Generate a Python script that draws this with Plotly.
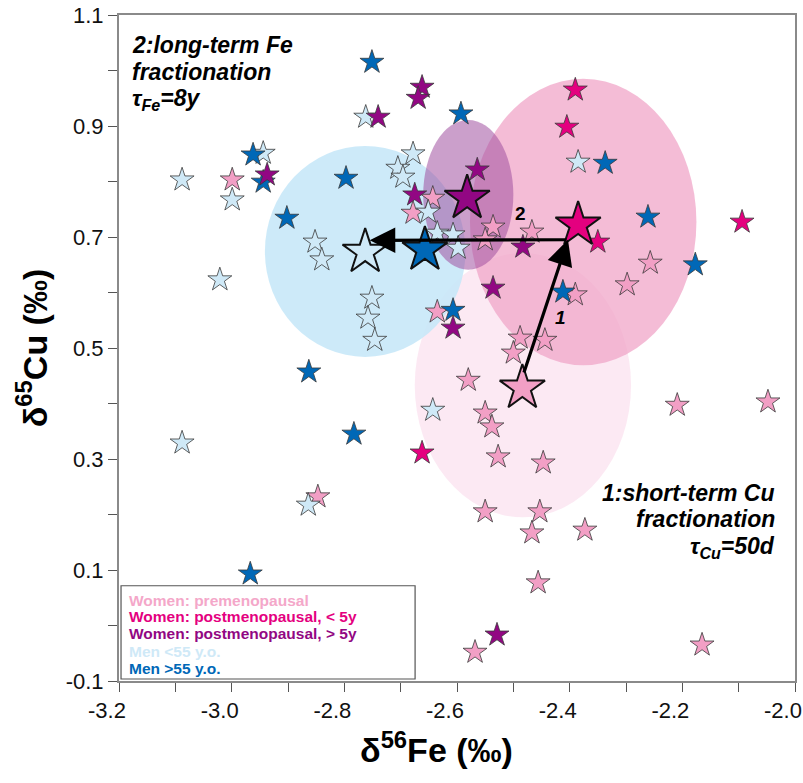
import plotly.graph_objects as go

# ---------------- data ----------------
pre_x = [-2.999, -2.643, -2.678, -2.536, -2.467, -2.550, -2.257, -2.298, -2.390, -2.635,
         -2.488, -2.444, -2.500, -2.580, -2.550, -2.538, -2.527, -2.447, -2.550, -2.453,
         -2.209, -2.048, -2.467, -2.373, -2.456, -2.568, -2.165, -2.847]
pre_y = [0.803, 0.770, 0.743, 0.718, 0.709, 0.695, 0.653, 0.614, 0.596, 0.565,
         0.518, 0.514, 0.491, 0.442, 0.383, 0.358, 0.304, 0.293, 0.205, 0.205,
         0.397, 0.403, 0.167, 0.172, 0.077, -0.048, -0.035, 0.232]

post5_x = [-2.390, -2.405, -2.350, -2.094, -2.662]
post5_y = [0.965, 0.898, 0.691, 0.727, 0.311]

postgt5_x = [-2.662, -2.669, -2.740, -2.937, -2.564, -2.675, -2.483, -2.536, -2.607, -2.529]
postgt5_y = [0.970, 0.950, 0.916, 0.812, 0.821, 0.776, 0.682, 0.608, 0.536, -0.017]

men_young_x = [-3.088, -2.944, -2.999, -2.762, -2.678, -2.705, -2.696, -2.651, -2.852, -2.840,
               -2.751, -2.758, -2.746, -2.635, -2.607, -2.598, -2.385, -2.643, -3.088, -3.021,
               -2.864]
men_young_y = [0.803, 0.851, 0.767, 0.916, 0.850, 0.824, 0.808, 0.745, 0.691, 0.659,
               0.590, 0.554, 0.514, 0.707, 0.704, 0.680, 0.835, 0.388, 0.329, 0.623,
               0.217]

men_old_x = [-2.751, -2.593, -2.962, -2.944, -2.797, -2.902, -2.863, -2.783, -2.967, -2.337,
             -2.261, -2.177, -2.412, -2.607]
men_old_y = [1.015, 0.922, 0.848, 0.799, 0.806, 0.734, 0.457, 0.345, 0.093, 0.833,
             0.736, 0.650, 0.601, 0.568]

# group means (large stars): pre, post<5, post>5, men<55, men>55
mean_x = [-2.484, -2.385, -2.582, -2.763, -2.657]
mean_y = [0.428, 0.722, 0.770, 0.673, 0.677]

# dispersion ellipses: centre x, centre y, half-width, half-height
ell_cx = [-2.483, -2.763, -2.376, -2.580]
ell_cy = [0.433, 0.674, 0.727, 0.776]
ell_rx = [0.192, 0.178, 0.201, 0.080]
ell_ry = [0.238, 0.190, 0.258, 0.135]
ell_col = ["rgba(251,226,239,0.75)", "rgba(200,232,248,0.9)",
           "rgba(240,165,200,0.75)", "rgba(160,80,160,0.55)"]

group_names = ["Women: premenopausal", "Women: postmenopausal, < 5y",
               "Women: postmenopausal, > 5y", "Men <55 y.o.", "Men >55 y.o."]
group_cols = ["#f29fc5", "#e4007f", "#920783", "#cfe9f7", "#0068b7"]
legend_text_cols = ["#f4a7c9", "#e4007f", "#920783", "#cfe9f7", "#0068b7"]

x_ticks = [-3.2, -3.0, -2.8, -2.6, -2.4, -2.2, -2.0]
y_ticks = [-0.1, 0.1, 0.3, 0.5, 0.7, 0.9, 1.1]

note2_lines = ["2:long-term Fe", "fractionation", "τ<sub>Fe</sub>=8y"]
note1_lines = ["1:short-term Cu", "fractionation", "τ<sub>Cu</sub>=50d"]

FONT = "Liberation Sans, Arial"

# ---------------- figure ----------------
fig = go.Figure()

shapes = []
for cx, cy, rx, ry, c in zip(ell_cx, ell_cy, ell_rx, ell_ry, ell_col):
    shapes.append(dict(type="circle", xref="x", yref="y", x0=cx - rx, x1=cx + rx,
                       y0=cy - ry, y1=cy + ry, fillcolor=c, line=dict(width=0), layer="below"))

series = [(pre_x, pre_y, 0), (men_young_x, men_young_y, 3), (men_old_x, men_old_y, 4),
          (postgt5_x, postgt5_y, 2), (post5_x, post5_y, 1)]
for xs, ys, gi in series:
    fig.add_trace(go.Scatter(x=xs, y=ys, mode="markers", name=group_names[gi],
                             marker=dict(symbol="star", size=18, color=group_cols[gi],
                                         line=dict(color="#3a3a3a", width=0.8)),
                             showlegend=False))

fig.add_trace(go.Scatter(x=mean_x, y=mean_y, mode="markers", showlegend=False,
                         marker=dict(symbol="star", size=34, color=group_cols,
                                     line=dict(color="#111111", width=2))))

# legend box
shapes.append(dict(type="rect", xref="paper", yref="paper", x0=0.003, x1=0.438,
                   y0=0.003, y1=0.143, line=dict(color="#555555", width=1.2),
                   fillcolor="white", layer="above"))

annotations = []
leg_y = [0.1216, 0.0961, 0.0706, 0.0450, 0.0195]
for t, c, yy in zip(group_names, legend_text_cols, leg_y):
    annotations.append(dict(xref="paper", yref="paper", x=0.0125, y=yy, xanchor="left",
                            yanchor="middle", text=f"<b>{t}</b>", showarrow=False,
                            font=dict(family=FONT, size=15.5, color=c)))

annotations += [
    # arrow 1: pre -> post<5
    dict(x=mean_x[1] - 0.018, y=0.695, ax=mean_x[0] + 0.002, ay=mean_y[0] + 0.025,
         xref="x", yref="y", axref="x", ayref="y", showarrow=True, arrowhead=2,
         arrowsize=1.6, arrowwidth=3.2, arrowcolor="black", text="", standoff=0),
    # arrow 2: post<5 -> men<55
    dict(x=mean_x[3] + 0.008, y=0.694, ax=mean_x[1] - 0.018, ay=0.695,
         xref="x", yref="y", axref="x", ayref="y", showarrow=True, arrowhead=2,
         arrowsize=1.6, arrowwidth=3.2, arrowcolor="black", text="", standoff=0),
    dict(x=-2.488, y=0.742, xref="x", yref="y", text="<b>2</b>", showarrow=False,
         font=dict(family=FONT, size=19, color="black")),
    dict(x=-2.417, y=0.555, xref="x", yref="y", text="<b><i>1</i></b>", showarrow=False,
         font=dict(family=FONT, size=19, color="black")),
    # x-axis title (slightly left of centre as in the original)
    dict(xref="paper", yref="paper", x=0.47, y=-0.1006, xanchor="center", yanchor="middle",
         text="<b>δ<sup>56</sup>Fe (‰)</b>", showarrow=False,
         font=dict(family=FONT, size=34, color="black")),
]

for t, yy in zip(note2_lines, [1.046, 0.997, 0.947]):
    annotations.append(dict(x=-3.181, y=yy, xref="x", yref="y", xanchor="left",
                            yanchor="middle", text=f"<b><i>{t}</i></b>", showarrow=False,
                            font=dict(family=FONT, size=23, color="black")))
for t, yy in zip(note1_lines, [0.239, 0.192, 0.141]):
    annotations.append(dict(x=-2.032, y=yy, xref="x", yref="y", xanchor="right",
                            yanchor="middle", text=f"<b><i>{t}</i></b>", showarrow=False,
                            font=dict(family=FONT, size=23, color="black")))

fig.update_layout(
    width=803, height=783,
    margin=dict(l=119, r=8, t=15, b=102),
    paper_bgcolor="white", plot_bgcolor="white",
    shapes=shapes, annotations=annotations, showlegend=False,
    font=dict(family=FONT, color="black"),
)

axis_common = dict(ticks="outside", ticklen=9, tickwidth=1.2, tickcolor="#555",
                   showline=True, linecolor="#8a8a8a", linewidth=2, mirror=True,
                   showgrid=False, zeroline=False, automargin=False,
                   ticklabeloverflow="allow",
                   tickfont=dict(size=22, family=FONT, color="#111"))

fig.update_xaxes(range=[-3.2, -2.0], tickvals=x_ticks, ticktext=[f"{v:.1f}" for v in x_ticks],
                 ticklabelshift=-12,
                 minor=dict(dtick=0.1, tick0=-3.2, ticks="outside", ticklen=9, tickcolor="#555",
                            tickwidth=1.2, showgrid=False),
                 **axis_common)
fig.update_yaxes(range=[-0.1, 1.1], tickvals=y_ticks, ticktext=[f"{v:.1f}" for v in y_ticks],
                 minor=dict(dtick=0.1, tick0=-0.1, ticks="outside", ticklen=9, tickcolor="#555",
                            tickwidth=1.2, showgrid=False),
                 title=dict(text="<b>δ<sup>65</sup>Cu (‰)</b>", standoff=8,
                            font=dict(size=34, family=FONT)),
                 **axis_common)

# remove the browser's default 8 px body margin so the figure sits at the page origin
fig.write_html("out.html", config={"displayModeBar": False},
               post_script="document.body.style.margin='0px';")
